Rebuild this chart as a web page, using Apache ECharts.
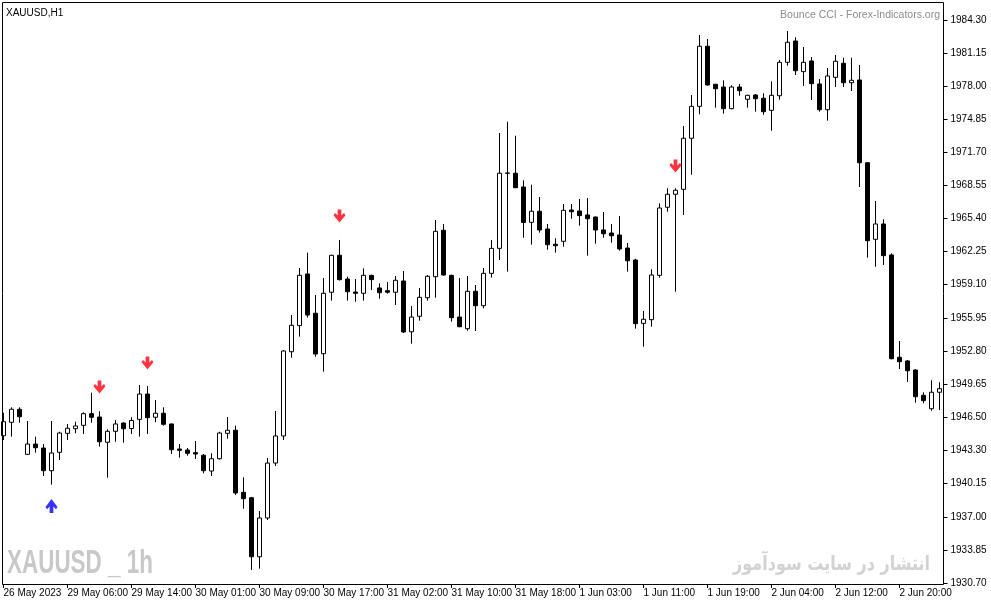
<!DOCTYPE html>
<html><head><meta charset="utf-8">
<script src="https://cdn.jsdelivr.net/npm/echarts@6/dist/echarts.min.js"></script>
<style>html,body{margin:0;padding:0;background:#fff}#c{width:991px;height:605px}</style>
</head><body><div id="c"></div>
<script>
const openP = [
1944.72,1946.00,1947.24,1942.95,1943.93,1943.55,1941.39,1943.14,1944.95,1945.39,
1945.71,1946.82,1946.50,1944.10,1945.14,1945.93,1945.41,1946.28,1948.69,1946.48,
1946.86,1945.84,1943.46,1943.36,1943.11,1942.86,1941.36,1942.53,1944.95,1945.24,
1939.33,1938.82,1933.20,1936.89,1942.12,1944.70,1952.72,1955.20,1960.12,1956.38,
1952.53,1958.38,1961.90,1959.64,1958.40,1958.28,1959.99,1958.79,1958.53,1958.38,
1959.45,1954.62,1956.09,1957.86,1959.86,1964.28,1959.99,1956.02,1954.91,1958.47,
1957.10,1960.18,1962.56,1969.71,1969.71,1968.40,1965.04,1966.09,1964.40,1962.95,
1963.23,1966.21,1966.12,1965.74,1965.54,1964.31,1964.02,1963.83,1962.59,1961.45,
1955.42,1955.77,1959.99,1966.47,1967.71,1968.18,1973.04,1976.08,1981.80,1978.18,
1977.92,1975.86,1977.92,1976.75,1977.16,1976.85,1975.70,1977.09,1980.27,1982.30,
1979.38,1980.40,1978.21,1975.76,1978.84,1980.18,1978.33,1978.59,1970.71,1963.42,
1964.88,1961.93,1952.19,1951.84,1950.98,1948.57,1947.29,1948.86];
const closeP = [
1946.06,1947.24,1946.53,1943.93,1943.58,1941.39,1943.08,1944.98,1945.43,1945.65,
1946.82,1946.48,1944.15,1945.14,1945.84,1945.39,1946.17,1948.69,1946.44,1946.86,
1945.81,1943.39,1943.33,1943.05,1942.98,1941.39,1942.53,1944.98,1945.24,1939.27,
1938.73,1933.20,1936.89,1942.12,1944.70,1952.79,1955.23,1959.99,1956.21,1952.50,
1958.28,1961.90,1959.58,1958.43,1958.28,1959.99,1959.58,1958.34,1958.38,1959.52,
1954.60,1956.02,1957.90,1959.90,1964.18,1960.02,1955.96,1955.10,1958.47,1957.10,
1960.18,1962.56,1969.71,1969.73,1968.33,1965.02,1966.09,1964.31,1962.91,1962.81,
1966.18,1966.05,1965.67,1965.38,1964.31,1963.95,1963.76,1962.50,1961.38,1955.39,
1955.81,1960.02,1966.40,1967.71,1968.09,1973.04,1976.08,1981.80,1978.11,1977.76,
1975.86,1977.92,1977.57,1977.13,1976.81,1975.57,1977.13,1980.27,1982.18,1979.47,
1980.27,1978.24,1975.76,1978.97,1980.37,1978.33,1978.56,1970.71,1963.29,1964.88,
1961.86,1952.05,1951.77,1950.91,1948.44,1948.06,1948.86,1949.20];
const lowP = [
1944.31,1944.63,1945.96,1942.90,1943.11,1940.89,1940.06,1942.41,1944.31,1944.95,
1944.89,1945.96,1943.68,1940.73,1944.15,1944.06,1944.89,1944.63,1944.89,1946.00,
1945.68,1942.98,1942.63,1942.82,1942.51,1941.14,1940.89,1942.45,1944.44,1939.08,
1937.77,1931.94,1932.06,1936.70,1941.84,1944.31,1952.15,1954.15,1955.96,1952.24,
1950.82,1957.58,1959.50,1957.58,1957.48,1957.58,1958.59,1957.77,1958.24,1957.17,
1954.50,1953.48,1955.67,1957.58,1957.86,1959.96,1955.58,1955.05,1954.72,1954.69,
1956.85,1959.77,1961.45,1960.34,1968.30,1963.57,1962.91,1964.05,1962.43,1962.15,
1962.72,1965.38,1964.72,1961.86,1963.00,1963.57,1963.10,1962.34,1960.34,1954.91,
1953.20,1955.10,1959.77,1966.05,1958.43,1965.74,1969.57,1975.32,1978.05,1975.95,
1975.38,1975.80,1977.09,1975.95,1975.57,1975.28,1973.76,1976.71,1979.95,1979.06,
1978.02,1976.68,1975.57,1974.71,1977.92,1977.92,1977.54,1968.40,1961.67,1960.81,
1960.98,1952.00,1951.07,1949.84,1947.87,1947.81,1947.10,1947.17];
const highP = [
1946.91,1947.43,1947.43,1946.12,1944.63,1943.93,1946.12,1945.10,1945.84,1946.06,
1946.95,1948.82,1947.05,1945.33,1946.22,1945.98,1946.48,1949.55,1949.46,1948.12,
1947.43,1945.88,1943.93,1943.55,1944.22,1942.98,1943.05,1945.10,1946.50,1945.68,
1940.76,1938.90,1937.55,1942.60,1947.08,1952.88,1956.21,1960.69,1962.15,1958.12,
1959.74,1961.95,1963.36,1959.86,1959.64,1960.66,1960.05,1959.23,1959.36,1959.93,
1960.40,1957.07,1958.79,1960.02,1965.26,1964.88,1960.05,1959.74,1959.93,1959.07,
1960.69,1963.36,1973.54,1974.62,1973.28,1969.04,1968.62,1967.45,1964.88,1963.52,
1966.78,1966.78,1967.26,1967.35,1965.60,1966.02,1964.88,1965.64,1963.07,1961.57,
1956.60,1960.57,1966.85,1968.28,1968.28,1974.21,1977.16,1982.87,1982.49,1978.22,
1978.56,1978.08,1978.21,1977.18,1977.25,1977.32,1978.46,1980.49,1983.25,1982.65,
1981.73,1980.78,1978.68,1979.73,1980.97,1980.71,1980.71,1980.02,1970.78,1967.07,
1965.33,1962.09,1953.74,1951.93,1951.07,1948.86,1950.00,1949.81];

const xTickLabels = ['26 May 2023','29 May 06:00','29 May 14:00','30 May 01:00','30 May 09:00',
  '30 May 17:00','31 May 02:00','31 May 10:00','31 May 18:00','1 Jun 03:00','1 Jun 11:00',
  '1 Jun 19:00','2 Jun 04:00','2 Jun 12:00','2 Jun 20:00'];
const yTickLabels = ['1984.30','1981.15','1978.00','1974.85','1971.70','1968.55','1965.40',
  '1962.25','1959.10','1955.95','1952.80','1949.65','1946.50','1943.30','1940.15','1937.00',
  '1933.85','1930.70'];

const sellIdx = [12, 18, 42, 84];
const sellPrice = [1949.36, 1951.65, 1965.64, 1970.40];
const buyIdx = [6];
const buyPrice = [1938.03];

const candles = openP.map((o, i) => [o, closeP[i], lowP[i], highP[i]]);
const cats = openP.map((_, i) => String(i));
const yVals = yTickLabels.map(parseFloat);
const FONT = '"Liberation Sans", Arial, sans-serif';

const downArrow = 'path://M3.8,0 L7.2,0 L7.2,5.6 L9.6,3.2 L11,5.2 L5.5,12 L0,5.2 L1.4,3.2 L3.8,5.6 Z';
const upArrow = 'path://M3.8,12 L7.2,12 L7.2,6.4 L9.6,8.8 L11,6.8 L5.5,0 L0,6.8 L1.4,8.8 L3.8,6.4 Z';

const chart = echarts.init(document.getElementById('c'), null, {renderer: 'canvas'});
chart.setOption({
  animation: false,
  backgroundColor: '#fff',
  grid: {left: -0.5, right: 47.5, top: 3, bottom: 21, containLabel: false, outerBoundsMode: 'none'},
  xAxis: {
    type: 'category', data: cats, boundaryGap: true,
    axisLine: {show: false},
    axisTick: {show: true, interval: 7, alignWithLabel: true, length: 4, lineStyle: {color: '#000'}},
    axisLabel: {
      interval: 7, align: 'left', margin: 4, fontSize: 10, color: '#000', fontFamily: FONT,
      formatter: (v, idx) => xTickLabels[idx / 8] || ''
    },
    splitLine: {show: false}
  },
  yAxis: {
    type: 'value', position: 'right', min: 1930.605, max: 1985.918, scale: true,
    axisLine: {show: false},
    axisTick: {show: true, length: 4, lineStyle: {color: '#000'}, customValues: yVals},
    axisLabel: {customValues: yVals, formatter: v => v.toFixed(2), margin: 7, fontSize: 10,
      color: '#000', fontFamily: FONT},
    splitLine: {show: false}
  },
  series: [
    {
      type: 'candlestick', data: candles, barWidth: 4,
      itemStyle: {color: '#fff', color0: '#000', borderColor: '#000', borderColor0: '#000', borderWidth: 1},
      emphasis: {disabled: true}, silent: true
    },
    {
      type: 'scatter', data: sellIdx.map((i, k) => [i, sellPrice[k]]),
      symbol: downArrow, symbolSize: [12, 13], itemStyle: {color: '#ff0010'}, silent: true, z: 5
    },
    {
      type: 'scatter', data: buyIdx.map((i, k) => [i, buyPrice[k]]),
      symbol: upArrow, symbolSize: [12, 14], itemStyle: {color: '#0000ff'}, silent: true, z: 5
    }
  ],
  graphic: [
    {type: 'text', x: 7, y: 547, scaleX: 0.68, z: 0, silent: true,
      style: {text: 'XAUUSD _ 1h', font: 'bold 33px "Liberation Sans", sans-serif', fill: '#c8c8c8'}},
    {type: 'text', x: 930, y: 565, scaleX: 0.8, z: 0, silent: true,
      style: {text: 'انتشار در سایت سودآموز', font: 'bold 20px "DejaVu Sans", sans-serif', fill: '#d2d2d2', align: 'right', verticalAlign: 'middle'}},
    {type: 'text', x: 6, y: 8, silent: true,
      style: {text: 'XAUUSD,H1', font: '10px ' + FONT, fill: '#000'}},
    {type: 'text', x: 940, y: 10, silent: true,
      style: {text: 'Bounce CCI - Forex-Indicators.org', font: '10.5px ' + FONT, fill: '#8c8c8c', align: 'right'}},
    {type: 'rect', silent: true, z: 100,
      shape: {x: 2.5, y: 2.5, width: 941, height: 582},
      style: {fill: null, stroke: '#000', lineWidth: 1}}
  ]
});
</script>
</body></html>
